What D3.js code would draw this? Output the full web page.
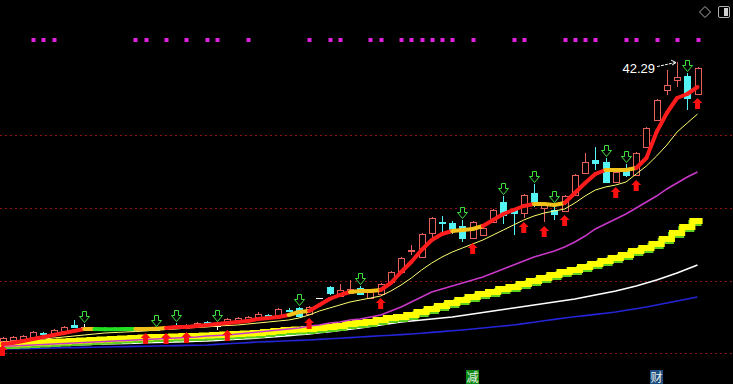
<!DOCTYPE html>
<html><head><meta charset="utf-8">
<script src="https://cdn.jsdelivr.net/npm/d3@7"></script>
<style>html,body{margin:0;padding:0;background:#000;overflow:hidden}</style>
</head><body>
<svg id="c" width="733" height="384"></svg>
<script>
// ---- data ----
const days = d3.range(69);
const opens  = [14.35,14.45,14.55,14.75,15.15,15.15,15.35,15.95,15.75,15.45,15.65,15.45,15.55,15.45,15.65,15.55,15.55,15.85,15.65,15.85,16.25,15.85,16.15,16.45,16.45,16.75,16.95,16.95,17.45,17.65,17.05,18.65,19.75,18.85,19.15,19.65,18.65,19.05,20.25,21.25,23.35,22.75,25.15,26.25,26.15,25.85,24.65,24.95,26.25,28.25,27.45,27.15,29.15,27.65,27.45,27.35,28.95,31.15,32.45,32.25,30.25,31.35,30.95,33.75,36.45,39.45,40.45,40.85,39.05];
const closes = [14.65,14.75,14.85,15.25,15.05,15.45,15.75,15.75,15.75,15.65,15.45,15.65,15.45,15.65,15.55,15.45,15.75,15.75,15.95,16.15,16.05,15.85,16.55,16.65,16.75,17.05,16.75,17.55,17.35,16.85,17.75,18.65,19.15,19.45,19.55,19.05,19.25,20.05,21.25,22.65,23.45,25.05,26.65,26.15,25.45,24.65,26.25,25.65,27.45,26.95,27.15,28.95,28.25,27.95,27.05,28.85,30.95,32.25,32.15,30.25,31.25,30.95,33.15,35.65,38.45,39.95,40.75,38.65,41.65];
const highs  = [14.75,14.85,14.95,15.35,15.25,15.55,15.85,16.45,16.05,15.75,15.75,15.75,15.65,15.75,15.75,15.65,15.85,16.15,16.05,16.25,16.35,16.15,16.65,16.75,16.85,17.25,17.05,17.65,17.65,17.75,17.85,18.65,19.85,20.05,20.45,19.85,19.35,20.15,21.35,22.75,23.95,25.15,26.75,26.85,26.35,26.45,26.35,25.85,27.55,28.85,27.55,29.05,30.05,28.05,28.05,28.95,31.05,33.15,33.75,32.65,31.35,32.05,33.25,35.75,38.55,41.45,42.29,41.15,41.75];
const lows   = [14.35,14.35,14.45,14.75,14.95,15.05,15.35,15.65,15.45,15.35,15.35,15.35,15.35,15.35,15.55,15.35,15.55,15.65,15.65,15.85,15.95,15.55,15.85,16.35,16.35,16.65,16.65,16.85,17.25,16.75,17.05,18.65,18.95,18.75,19.15,18.95,18.55,19.05,20.15,21.15,22.95,22.65,24.65,25.15,25.05,24.25,24.55,24.85,26.15,26.05,24.95,26.65,27.75,26.25,26.45,27.35,28.85,31.05,31.45,30.15,30.15,30.75,30.85,33.65,36.35,38.95,39.75,37.45,39.05];

// short trend line (thick) and its state: 1 rising, 0 flat, -1 falling
const trendLine = [14.05,14.15,14.35,14.55,14.75,14.95,15.15,15.35,15.55,15.55,15.53,15.52,15.54,15.55,15.56,15.58,15.65,15.75,15.75,15.85,15.95,16.05,16.15,16.25,16.35,16.55,16.65,16.75,16.95,17.25,17.35,17.95,18.55,18.95,19.25,19.35,19.35,19.45,20.15,21.25,22.25,23.45,24.45,25.05,25.35,25.45,25.55,25.85,26.45,27.05,27.45,27.85,28.05,28.05,27.95,28.15,29.15,30.15,31.05,31.45,31.45,31.45,31.65,32.65,35.25,37.15,38.65,39.05,39.75];
const trendState = [1,1,1,1,1,1,1,1,0,-1,-1,-1,-1,0,0,0,1,1,1,1,1,1,1,1,1,1,1,1,0,0,1,1,1,1,0,0,0,1,1,1,1,1,1,1,0,0,0,1,1,1,1,1,0,0,0,1,1,1,1,0,0,0,1,1,1,1,1,1,1];
const maYellow  = [14.25,14.30,14.35,14.45,14.55,14.65,14.75,14.85,14.95,15.05,15.15,15.20,15.25,15.30,15.35,15.45,15.50,15.55,15.65,15.70,15.75,15.85,15.90,15.95,16.05,16.15,16.25,16.35,16.45,16.65,16.95,17.35,17.65,17.95,18.25,18.45,18.65,18.85,19.35,19.95,20.65,21.45,22.15,22.75,23.25,23.65,24.05,24.45,24.95,25.45,25.95,26.45,26.85,27.15,27.35,27.55,28.15,28.85,29.45,29.75,29.95,30.25,31.05,31.85,32.85,33.95,35.25,36.15,37.05];
const maMagenta = [13.85,13.85,13.90,13.95,14.00,14.05,14.10,14.15,14.20,14.25,14.30,14.35,14.40,14.45,14.50,14.55,14.60,14.65,14.70,14.75,14.85,14.90,14.95,15.05,15.15,15.25,15.35,15.45,15.55,15.65,15.85,15.95,16.15,16.25,16.45,16.55,16.75,16.95,17.35,17.75,18.25,18.75,19.25,19.55,19.85,20.15,20.45,20.75,21.15,21.55,21.95,22.35,22.75,23.05,23.35,23.75,24.25,24.85,25.55,26.05,26.55,27.05,27.65,28.25,28.85,29.55,30.15,30.75,31.25];
const maStep    = [14.05,14.05,14.10,14.15,14.20,14.25,14.30,14.35,14.40,14.45,14.50,14.55,14.60,14.65,14.70,14.75,14.75,14.80,14.85,14.85,14.90,14.95,15.00,15.05,15.10,15.15,15.25,15.35,15.45,15.50,15.55,15.65,15.75,15.85,16.05,16.15,16.25,16.45,16.65,16.75,16.95,17.25,17.55,17.85,18.15,18.45,18.75,19.05,19.25,19.55,19.75,20.05,20.35,20.65,20.95,21.25,21.45,21.75,22.05,22.35,22.65,22.95,23.35,23.65,24.05,24.55,25.15,25.75,26.35];
const maWhite   = [13.75,13.78,13.81,13.85,13.87,13.90,13.93,13.96,13.99,14.02,14.05,14.08,14.11,14.14,14.17,14.20,14.23,14.26,14.29,14.32,14.35,14.41,14.47,14.53,14.59,14.65,14.73,14.81,14.89,14.97,15.05,15.17,15.29,15.41,15.53,15.65,15.80,15.95,16.10,16.25,16.35,16.45,16.55,16.65,16.75,16.90,17.05,17.20,17.35,17.50,17.65,17.80,17.95,18.10,18.25,18.40,18.55,18.75,18.95,19.15,19.35,19.60,19.85,20.15,20.45,20.80,21.15,21.55,21.95];
const maBlue    = [13.55,13.57,13.59,13.61,13.63,13.65,13.67,13.69,13.71,13.73,13.75,13.77,13.79,13.81,13.83,13.85,13.87,13.89,13.91,13.93,13.95,14.01,14.07,14.13,14.19,14.25,14.29,14.33,14.37,14.41,14.45,14.51,14.57,14.63,14.69,14.75,14.81,14.87,14.93,14.99,15.05,15.13,15.21,15.29,15.37,15.45,15.55,15.65,15.75,15.85,15.95,16.09,16.23,16.37,16.51,16.65,16.77,16.89,17.01,17.13,17.25,17.42,17.58,17.75,17.95,18.15,18.35,18.55,18.75];

const buyIdx  = [0,14,16,18,22,30,37,46,51,53,55,60,62,68];
const sellIdx = [8,15,17,21,29,35,45,49,52,54,59,61,67];
const dotIdx  = [3,4,5,13,14,16,18,20,21,24,30,32,33,36,37,39,40,41,42,43,44,46,50,51,55,56,57,58,61,62,64,66,68];
const gridPrices = [13.15,20.4,27.65,34.95];
const badges = [{idx:46,text:"减",bg:"#0f8a12"},{idx:64,text:"财",bg:"#1d4c80"}];

// ---- scales ----
const W = 733, H = 384;
const x = d3.scaleLinear().domain([0, 68]).range([2.5, 697.5]);
const y = d3.scaleLinear().domain([10, 48.45]).range([384.5, 0]);
const step = x(1) - x(0);
const svg = d3.select("#c");
svg.append("rect").attr("width", W).attr("height", H).attr("fill", "#000");

// grid
svg.append("g").selectAll("line").data(gridPrices).join("line")
  .attr("x1", 0).attr("x2", W)
  .attr("y1", d => Math.round(y(d)) + 0.5).attr("y2", d => Math.round(y(d)) + 0.5)
  .attr("stroke", "#8a1414").attr("stroke-dasharray", "2,3").attr("stroke-width", 1);

const line = arr => d3.line().x((d, i) => x(i)).y(d => y(d))(arr);

svg.append("path").attr("d", line(maBlue)).attr("fill", "none").attr("stroke", "#2424d8").attr("stroke-width", 1.6);
svg.append("path").attr("d", line(maWhite)).attr("fill", "none").attr("stroke", "#ffffff").attr("stroke-width", 1.6);
// stepped band: each value holds across its candle slot
const stepPts = maStep.map((v, i) => [x(i) - step / 2, y(v)]);
stepPts.push([x(maStep.length - 1) + step / 2, y(maStep[maStep.length - 1])]);
const stepLine = d3.line().curve(d3.curveStepAfter);
svg.append("path").attr("d", stepLine(stepPts)).attr("fill", "none").attr("stroke", "#5fd020").attr("stroke-width", 6).attr("transform", "translate(-1,2)");
svg.append("path").attr("d", stepLine(stepPts)).attr("fill", "none").attr("stroke", "#ffff00").attr("stroke-width", 6);
svg.append("path").attr("d", line(maMagenta)).attr("fill", "none").attr("stroke", "#c838c8").attr("stroke-width", 1.5);

// candles
const upCol = "#e8605a", dnCol = "#54f4f4";
const cg = svg.append("g").attr("shape-rendering", "crispEdges");
days.forEach(i => {
  const o = opens[i], c = closes[i], h = highs[i], l = lows[i];
  const cx = Math.round(x(i)) + 0.5;
  const top = Math.round(y(Math.max(o, c))), bot = Math.round(y(Math.min(o, c)));
  const yh = Math.round(y(h)), yl = Math.round(y(l));
  if (Math.abs(o - c) < 0.001) {
    cg.append("line").attr("x1", cx).attr("x2", cx).attr("y1", yh).attr("y2", yl + 1).attr("stroke", "#fff");
    cg.append("line").attr("x1", cx - 3.5).attr("x2", cx + 3.5).attr("y1", top + 0.5).attr("y2", top + 0.5).attr("stroke", "#fff");
  } else if (c > o) {
    cg.append("line").attr("x1", cx).attr("x2", cx).attr("y1", yh).attr("y2", top).attr("stroke", upCol);
    cg.append("line").attr("x1", cx).attr("x2", cx).attr("y1", bot).attr("y2", yl).attr("stroke", upCol);
    cg.append("rect").attr("x", cx - 3).attr("y", top + 0.5).attr("width", 6).attr("height", Math.max(1, bot - top))
      .attr("fill", "#000").attr("stroke", upCol);
  } else {
    cg.append("line").attr("x1", cx).attr("x2", cx).attr("y1", yh).attr("y2", yl).attr("stroke", dnCol);
    cg.append("rect").attr("x", cx - 3.5).attr("y", top).attr("width", 7).attr("height", Math.max(2, bot - top + 1))
      .attr("fill", dnCol);
  }
});

svg.append("path").attr("d", line(maYellow)).attr("fill", "none").attr("stroke", "#ffff70").attr("stroke-width", 1);

// thick trend line, coloured by state
const stateCol = {"1": "#ff1c1c", "0": "#f2c21a", "-1": "#22e022"};
const tg = svg.append("g");
for (let i = 0; i < trendLine.length - 1; i++) {
  tg.append("line").attr("x1", x(i)).attr("y1", y(trendLine[i])).attr("x2", x(i + 1)).attr("y2", y(trendLine[i + 1]))
    .attr("stroke", stateCol[trendState[i]]).attr("stroke-width", 4).attr("stroke-linecap", "round");
}

// buy arrows (red, below low)
svg.append("g").selectAll("path").data(buyIdx).join("path")
  .attr("d", i => {
    const cx = x(i), t = y(lows[i]) + 4;
    return `M${cx},${t} L${cx + 5},${t + 5} L${cx + 2.5},${t + 5} L${cx + 2.5},${t + 11} L${cx - 2.5},${t + 11} L${cx - 2.5},${t + 5} L${cx - 5},${t + 5} Z`;
  })
  .attr("fill", "#ff1010");

// sell arrows (green outline, above high)
svg.append("g").selectAll("path").data(sellIdx).join("path")
  .attr("d", i => {
    const cx = Math.round(x(i)) + 0.5, b = Math.round(y(highs[i])) - 1.5;
    return `M${cx - 2},${b - 11} L${cx + 2},${b - 11} L${cx + 2},${b - 6} L${cx + 5},${b - 6} L${cx},${b} L${cx - 5},${b - 6} L${cx - 2},${b - 6} Z`;
  })
  .attr("fill", "#000").attr("stroke", "#3ee03e").attr("stroke-width", 1);

// signal dots
svg.append("g").selectAll("rect").data(dotIdx).join("rect")
  .attr("x", i => Math.round(x(i)) - 1.5).attr("y", 38).attr("width", 4).attr("height", 4)
  .attr("fill", "#e020e0");

// max label
const maxI = d3.maxIndex(highs);
const mx = x(maxI), my = y(highs[maxI]);
svg.append("text").attr("x", mx - 22).attr("y", my + 11).attr("text-anchor", "end")
  .attr("font-family", "Liberation Sans, Arial, sans-serif").attr("font-size", 13).attr("fill", "#fff")
  .text(highs[maxI].toFixed(2));
svg.append("line").attr("x1", mx - 20).attr("y1", my + 5).attr("x2", mx - 2).attr("y2", my + 1)
  .attr("stroke", "#fff").attr("stroke-width", 1).attr("stroke-dasharray", "3,1");
svg.append("path").attr("d", `M${mx - 6},${my - 1.5} L${mx - 1},${my + 1} L${mx - 5},${my + 3.5}`)
  .attr("fill", "none").attr("stroke", "#fff").attr("stroke-width", 1);

// top-right icons
svg.append("path").attr("d", "M705,6.5 L710.5,12 L705,17.5 L699.5,12 Z").attr("fill", "none").attr("stroke", "#b0b0b0");
svg.append("rect").attr("x", 718.5).attr("y", 6.5).attr("width", 11).attr("height", 11).attr("rx", 1.5)
  .attr("fill", "none").attr("stroke", "#b0b0b0");
svg.append("rect").attr("x", 724).attr("y", 8).attr("width", 4).attr("height", 8).attr("fill", "#d0d0d0");

// badges
const bg = svg.append("g").selectAll("g").data(badges).join("g")
  .attr("transform", d => `translate(${Math.round(x(d.idx)) - 7},370)`);
bg.append("rect").attr("width", 13).attr("height", 14).attr("fill", d => d.bg);
bg.append("text").attr("x", 6.5).attr("y", 12).attr("text-anchor", "middle")
  .attr("font-family", "Noto Sans CJK SC, sans-serif").attr("font-size", 12).attr("fill", "#e8f0e8")
  .text(d => d.text);
</script>
</body></html>
